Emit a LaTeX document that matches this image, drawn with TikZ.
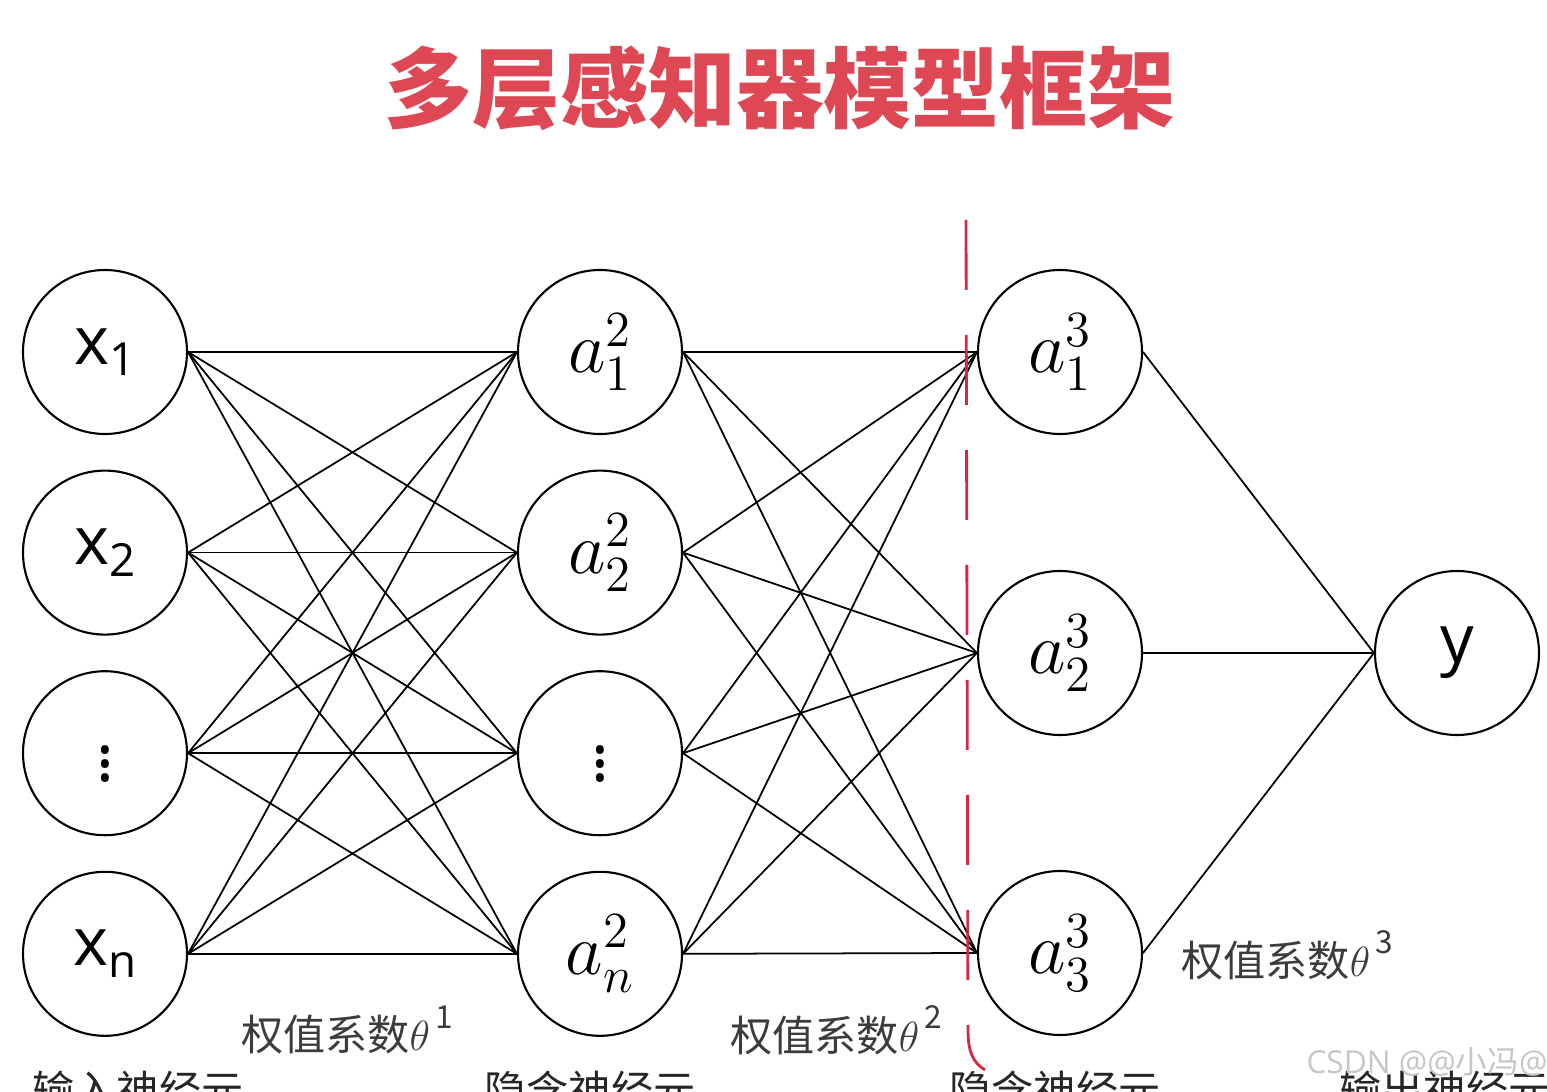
\documentclass[tikz,border=0pt]{standalone}
\usepackage{fontspec}
\setmainfont{Open Sans}
\newfontfamily\cjk{Noto Sans CJK SC}
\usetikzlibrary{positioning}
\definecolor{titlered}{RGB}{222,72,84}
\definecolor{lblgray}{RGB}{60,60,60}
\definecolor{markred}{RGB}{214,40,64}
\newcommand\lsub[1]{\raisebox{-0.32ex}{\fontsize{13}{13}\selectfont #1}}
\newcommand\wsup[1]{\raisebox{1.0ex}{\fontsize{9}{9}\selectfont\,#1}}

\begin{document}
\begin{tikzpicture}[
    neuron/.style={draw, circle, minimum size=1.64cm, inner sep=0pt, line width=0.6pt,
                   font=\fontsize{19}{22}\selectfont},
    hid/.style={neuron, font=\fontsize{22}{24}\selectfont},
    link/.style={line width=0.5pt},
    wlbl/.style={font=\cjk\fontsize{12}{14}\selectfont, text=lblgray},
    layer/.style={font=\cjk\fontsize{12}{14}\selectfont, text=black!85},
    node distance=0.345cm
]
\useasboundingbox (0,0) rectangle (15.47,-10.92);
\clip (0,0) rectangle (15.47,-10.92);

% ---- title ----
\node[font=\cjk\bfseries\fontsize{25}{28}\selectfont, text=titlered] (title) at (7.8,-0.88) {多层感知器模型框架};

% ---- input layer ----
\node[neuron]                (x1) at (1.05,-3.52) {x\lsub{1}};
\node[neuron, below=of x1]   (x2) {x\lsub{2}};
\node[neuron, below=of x2]   (xd) {$\vdots$};
\node[neuron, below=of xd]   (xn) {x\lsub{n}};

% ---- hidden layer 2 ----
\node[hid]                   (a21) at (6.0,-3.52) {$a^2_1$};
\node[hid, below=of a21]     (a22) {$a^2_2$};
\node[neuron, below=of a22]  (a2d) {$\vdots$};
\node[hid, below=of a2d]     (a2n) {$a^2_n$};

% ---- hidden layer 3 ----
\node[hid]                   (a31) at (10.6,-3.52) {$a^3_1$};
\node[hid]                   (a32) at (10.6,-6.53) {$a^3_2$};
\node[hid]                   (a33) at (10.6,-9.53) {$a^3_3$};

% ---- output ----
\node[neuron]                (y)   at (14.57,-6.53) {y};

% ---- connections ----
\foreach \i in {x1,x2,xd,xn}
    \foreach \j in {a21,a22,a2d,a2n}
        \draw[link] (\i.east) -- (\j.west);
\foreach \i in {a21,a22,a2d,a2n}
    \foreach \j in {a31,a32,a33}
        \draw[link] (\i.east) -- (\j.west);
\foreach \i in {a31,a32,a33}
    \draw[link] (\i.east) -- (y.west);

% ---- weight labels ----
\node[wlbl] (w1) at (3.47,-10.3)  {权值系数$\theta$\wsup{1}};
\node[wlbl] (w2) at (8.36,-10.3)  {权值系数$\theta$\wsup{2}};
\node[wlbl] (w3) at (12.87,-9.55) {权值系数$\theta$\wsup{3}};

% ---- layer names ----
\node[layer] (l1) at (1.38,-10.9)  {输入神经元};
\node[layer] (l2) at (5.9,-10.9)   {隐含神经元};
\node[layer] (l3) at (10.55,-10.9) {隐含神经元};
\node[layer] (l4) at (14.45,-10.9) {输出神经元};

% red mark
\draw[markred, line width=0.8pt, dash pattern=on 0.7cm off 0.45cm]
    (9.66,-2.2) -- (9.68,-10.3) .. controls (9.68,-10.5) and (9.72,-10.62) .. (9.85,-10.7);

% watermark
\node[font=\fontsize{9}{11}\selectfont, text=gray!45, inner sep=0pt] (wm) at (14.27,-10.62) {CSDN @@{\cjk 小冯}@};

\end{tikzpicture}
\end{document}
